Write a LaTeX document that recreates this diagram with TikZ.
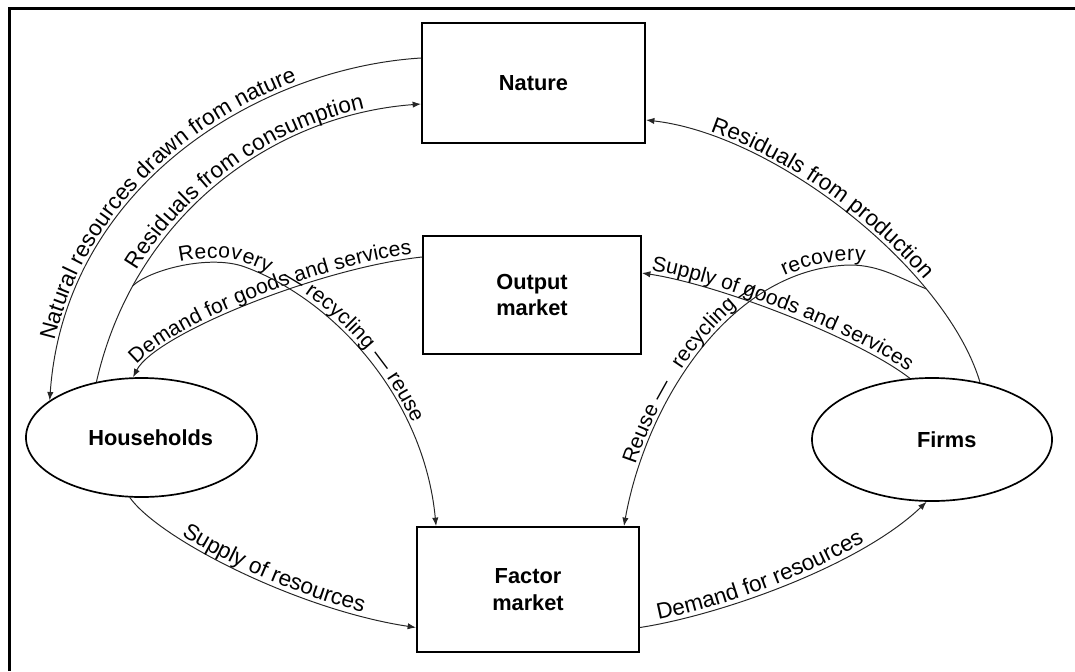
\documentclass[tikz,border=0pt]{standalone}
\usepackage{fontspec}
\setmainfont{Liberation Sans}
\usetikzlibrary{arrows.meta, calc, shapes.geometric, decorations.text}

\newcommand{\flowfont}{\fontsize{16}{19}\selectfont}
\newcommand{\tightfont}{\fontsize{15}{18}\selectfont}
\newcommand{\unitfont}{\fontsize{15.5}{19}\selectfont\bfseries}

\begin{document}
\begin{tikzpicture}[
  x=0.025cm, y=-0.025cm,
  market/.style = {draw, line width=1.3pt, minimum width=5.5cm, minimum height=3cm, align=center, font=\unitfont},
  agent/.style = {draw, ellipse, line width=1.2pt, inner sep=0pt, font=\unitfont},
  flow/.style = {line width=0.7pt, draw=black!85},
  arrow/.style = {-{Latex[length=6pt, width=4.5pt]}},
  backarrow/.style = {{Latex[length=6pt, width=4.5pt]}-},
  flowtext/.style 2 args = {postaction={decorate, decoration={text along path, raise=3pt,
      text align={left indent=#1}, text={|\flowfont|#2}}}},
  tighttext/.style 2 args = {postaction={decorate, decoration={text along path, raise=3pt,
      text align={left indent=#1}, text={|\tightfont|#2}}}}
]
\useasboundingbox (0,0) rectangle (1075,671);

% frame
\draw[line width=2pt] (9.5,671) -- (9.5,8.5) -- (1075,8.5);

% ======================================================
% Nature and the two markets (boxes)
% ======================================================
\node[market, minimum width=5.575cm] (nature) at (533.5,83) {Nature};
\node[market, minimum width=5.45cm, minimum height=2.95cm] (output) at (532,295) {Output\\market};
\node[market, minimum width=5.55cm, minimum height=3.125cm] (factor) at (528,589.5) {Factor\\market};

% ======================================================
% Households and firms (ellipses)
% ======================================================
\node[agent, minimum width=5.775cm, minimum height=2.975cm] (hh) at (141.5,437.5) {\hspace*{13pt}Households};
\node[agent, minimum width=6cm, minimum height=3.075cm] (firms) at (932,439.5) {\hspace*{21pt}Firms};

% Households <-> Nature
\draw[flow, backarrow, flowtext={42pt}{Natural resources drawn from nature}]
  (hh.158) .. controls +(15,-215) and +(-162,10) .. ($(nature.west)+(0,-25)$);
\draw[flow, arrow, flowtext={84pt}{Residuals from consumption}]
  (hh.129) .. controls +(38,-167) and +(-148,11) .. ($(nature.west)+(0,21)$)
  coordinate[pos=0.21] (recL);

% Output market -> Households
\draw[flow, backarrow, tighttext={8pt}{Demand for goods and services}]
  (hh.98) .. controls +(22,-43) and +(-103,11) .. ($(output.west)+(0,-38)$);

% Households -> Factor market
\draw[flow, arrow, flowtext={46pt}{Supply of resources}]
  (hh.259) .. controls +(30,42) and +(-117,-17.5) .. ($(factor.west)+(0,38)$);

% Factor market -> Firms
\draw[flow, arrow, flowtext={14pt}{Demand for resources}]
  ($(factor.east)+(0,38)$) .. controls +(81,-12.5) and +(-67,64) .. (firms.265);

% Firms -> Output market
\draw[flow, backarrow, tighttext={6pt}{Supply of goods and services}]
  ($(output.east)+(0,-22)$) .. controls +(79,12) and +(-50,-39) .. (firms.110);

% Firms -> Nature
\draw[flow, backarrow, flowtext={46pt}{Residuals from production}]
  ($(nature.east)+(0,37)$) .. controls +(130,15) and +(-34,-113) .. (firms.50)
  coordinate[pos=0.73] (recR);

% residuals sent back to the factor market
\draw[flow, arrow, tighttext={37pt}{Recovery{\hspace*{10pt}}— recycling — reuse}]
  (recL) .. controls +(17,-16) and +(-35,-13) .. (245,267)
  .. controls +(90,33) and +(-12,-127) .. ($(factor.north west)+(20,0)$);
\draw[flow, backarrow, tighttext={44pt}{Reuse — {\hspace*{8pt}}recycling —{\hspace*{20pt}}recovery}]
  ($(factor.north east)+(-16,0)$) .. controls +(22,-123) and +(-120,3) .. (850,265)
  .. controls +(30,0) and +(-25,-10) .. (recR);
\end{tikzpicture}
\end{document}
